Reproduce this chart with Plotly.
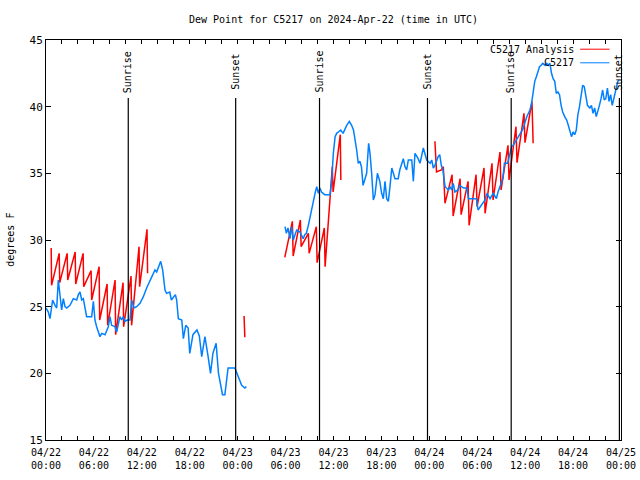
import pandas as pd
import plotly.graph_objects as go

BASE = pd.Timestamp("2024-04-22 00:00")

# Observations (hours since 2024-04-22 00:00 UTC), None = gap
obs_hours = [0.0, 0.29, 0.5, 0.83, 1.13, 1.34, 1.54, 1.75, 1.96, 2.17, 2.38, 2.59, 3.0, 3.42, 3.84, 4.05,
             4.26, 4.47, 4.67, 5.09, 5.72, 5.93, 6.13, 6.34, 6.76, 6.97, 7.39, 7.8, 8.01, 8.22, 8.64, 8.85,
             9.06, 9.26, 9.47, 9.68, 9.89, 10.18, 10.52, 10.73, 11.02, 11.35, 11.77, 12.19, 12.6, 13.02,
             13.44, 13.65, 13.86, 14.07, 14.36, 14.61, 14.9, 15.1, 15.5, 15.7, 16.2, 16.36, 16.57, 17.0,
             17.2, 17.5, 17.8, 18.0, 18.4, 18.9, 19.2, 19.5, 19.9, 20.3, 20.6, 20.9, 21.3, 21.6, 21.8,
             22.1, 22.4, 22.8, 23.65, 24.1, 24.5, 24.9, 25.1,
             None,
             29.93, 30.1, 30.3, 30.55, 30.76, 30.97, 31.18, 31.39, 31.8, 32.0, 32.2, 32.4, 32.6, 32.85,
             33.06, 33.27, 33.48, 33.69, 33.9, 34.1, 34.3, 34.5, 34.9, 35.56, 35.77, 35.98, 36.2, 36.4,
             36.6, 36.9, 37.2, 37.65, 37.98, 38.27, 38.5, 38.7, 38.9, 39.1, 39.3, 39.5, 39.7, 39.95,
             40.15, 40.4, 40.57, 40.78, 40.99, 41.2, 41.5, 41.8, 42.03, 42.24, 42.45, 42.66, 42.87,
             43.07, 43.3, 43.7, 44.1, 44.3, 44.74, 44.95, 45.16, 45.37, 45.8, 46.0, 46.2, 46.6, 46.83,
             47.25, 47.46, 47.67, 48.1, 48.3, 48.5, 48.7, 49.1, 49.3, 49.5, 49.7, 49.97, 50.2, 50.4,
             50.6, 50.8, 51.0, 51.2, 51.6, 51.8, 52.3, 52.7, 52.9, 53.9, 54.1, 54.55, 54.97, 55.2, 55.6,
             56.0, 56.4, 56.6, 57.2, 57.4, 57.8, 58.1, 58.3, 58.5, 58.9, 59.3, 59.7, 60.2, 60.6, 60.8,
             61.0, 61.2, 61.4, 61.6, 61.8, 62.0, 62.2, 62.5, 62.7, 62.9, 63.1, 63.3, 63.5, 63.7, 63.9,
             64.1, 64.3, 64.5, 64.7, 64.95, 65.2, 65.4, 65.6, 65.8, 66.0, 66.2, 66.4, 66.6, 66.8, 67.0,
             67.2, 67.4, 67.6, 67.8, 68.1, 68.3, 68.5, 68.7, 68.9, 69.1, 69.3, 69.5, 69.7, 69.9, 70.1,
             70.3, 70.5, 70.7, 70.9, 71.1, 71.4, 71.6, 71.8]
obs_values = [24.9, 24.6, 24.1, 25.5, 25.1, 24.9, 27.0, 25.75, 24.75, 25.6, 25.0, 24.9, 25.1, 25.6, 25.5, 25.9,
              26.1, 25.5, 25.6, 24.25, 24.25, 25.4, 24.0, 23.5, 22.75, 23.0, 22.9, 23.5, 24.25, 23.6, 23.5, 23.1,
              23.6, 24.25, 24.0, 24.25, 23.9, 24.0, 24.0, 25.5, 24.9, 25.0, 25.25, 25.75, 26.4, 26.9,
              27.5, 27.75, 27.6, 28.0, 28.4, 27.75, 26.25, 26.0, 26.1, 25.5, 25.9, 25.5, 24.1, 24.0,
              22.6, 23.6, 23.4, 21.5, 22.9, 23.25, 22.8, 21.25, 22.75, 21.25, 20.0, 21.5, 22.25, 20.0, 19.4,
              18.4, 18.4, 20.4, 20.4, 19.75, 19.1, 18.9, 19.0,
              None,
              31.0, 30.5, 30.9, 30.1, 31.0, 30.0, 30.4, 30.75, 30.6, 30.4, 30.1, 30.4, 30.5, 31.1,
              31.75, 32.25, 32.75, 33.5, 34.0, 33.5, 33.9, 33.6, 33.4, 33.4, 34.4, 36.5, 37.75, 38.0,
              38.1, 38.25, 38.0, 38.6, 38.9, 38.6, 38.25, 37.6, 36.75, 35.75, 35.9, 35.5, 34.1, 34.6,
              35.0, 37.25, 36.5, 35.0, 33.0, 33.4, 35.0, 34.4, 33.5, 33.1, 34.4, 33.1, 32.9,
              34.0, 35.4, 34.6, 34.6, 35.25, 36.1, 35.5, 35.25, 36.0, 36.0, 34.4, 36.5, 36.1, 35.75,
              36.9, 36.5, 36.0, 35.75, 36.0, 35.4, 35.6, 36.25, 36.4, 35.6, 35.25, 34.0, 33.9, 33.75,
              34.0, 33.75, 34.25, 33.6, 33.75, 34.1, 33.9, 33.9, 33.1, 33.1, 32.25, 32.6, 33.0, 33.5, 33.1,
              33.5, 33.1, 33.6, 34.6, 35.75, 35.75, 36.5, 37.0, 37.1, 37.5, 38.0, 38.3, 39.25, 39.75, 40.25,
              41.25, 41.9, 42.25, 42.6, 43.0, 43.1, 43.25, 43.1, 43.25, 43.1, 43.25, 42.5, 42.1, 41.9, 41.0,
              41.1, 40.9, 40.1, 39.6, 39.25, 39.0, 38.6, 38.1, 37.75, 38.1, 37.9, 38.25, 39.4, 40.0, 40.9,
              41.6, 41.5, 40.6, 40.1, 39.9, 40.1, 39.5, 39.9, 39.25, 39.6, 40.1, 40.6, 41.25, 40.5, 40.6,
              41.4, 40.4, 40.9, 40.1, 40.6, 41.5, 41.9, 42.0]

# Analysis (hours since 2024-04-22 00:00 UTC), None = gap
ana_hours = [0.65, 0.7, 1.65, 1.72, 2.65, 2.72, 3.65, 3.72, 4.65, 4.72, 5.65, 5.72, 6.65, 6.72, 7.65, 7.72,
             8.65, 8.72, 9.65, 9.72, 10.65, 10.72, 11.65, 11.72, 12.65, 12.72,
             None,
             24.8, 24.83, 24.9,
             None,
             29.9, 30.85, 30.95, 31.85, 31.95, 32.85, 32.95, 33.85, 33.95, 34.85, 34.95, 35.85, 35.95,
             36.85, 36.92,
             None,
             48.7, 48.9, 49.5, 49.75, 49.96, 50.85, 50.98, 51.85, 51.98, 52.85, 52.98, 53.85, 53.98,
             54.85, 54.98, 55.85, 55.98, 56.85, 56.98, 57.85, 57.98, 58.85, 58.98, 59.85, 59.98, 60.85, 61.0]
ana_values = [29.4, 26.6, 29.0, 26.8, 29.0, 27.0, 29.1, 26.7, 29.0, 26.5, 27.7, 25.5, 28.0, 24.0, 26.7, 23.6,
              27.0, 22.9, 26.8, 23.5, 27.3, 23.6, 29.5, 26.5, 30.8, 27.5,
              None,
              24.3, 23.4, 22.7,
              None,
              28.7, 31.4, 28.8, 31.5, 29.5, 30.5, 29.0, 31.0, 28.3, 30.9, 28.0, 35.5, 33.6,
              37.9, 34.5,
              None,
              37.4, 35.1, 35.25, 35.5, 32.75, 34.9, 31.8, 34.6, 31.9, 34.4, 31.1, 34.9, 32.5,
              35.4, 32.0, 35.75, 33.0, 36.6, 33.75, 37.1, 34.5, 38.5, 35.8, 39.5, 37.3, 40.4, 37.25]

event_hours = [10.3, 23.75, 34.25, 47.77, 58.25, 71.8]
event_labels = ["Sunrise", "Sunset", "Sunrise", "Sunset", "Sunrise", "Sunset"]

tick_hours = [0, 6, 12, 18, 24, 30, 36, 42, 48, 54, 60, 66, 72]
tick_labels = ["04/22<br>00:00", "04/22<br>06:00", "04/22<br>12:00", "04/22<br>18:00",
               "04/23<br>00:00", "04/23<br>06:00", "04/23<br>12:00", "04/23<br>18:00",
               "04/24<br>00:00", "04/24<br>06:00", "04/24<br>12:00", "04/24<br>18:00",
               "04/25<br>00:00"]
y_ticks = [15, 20, 25, 30, 35, 40, 45]

series_names = ["C5217 Analysis", "C5217"]
series_colors = ["#ff0000", "#0080ff"]


def to_time(hours):
    return [None if h is None else BASE + pd.Timedelta(hours=h) for h in hours]


FONT = "DejaVu Sans Mono"

fig = go.Figure()
fig.add_trace(go.Scatter(x=to_time(ana_hours), y=ana_values, mode="lines", name=series_names[0],
                         line=dict(color=series_colors[0], width=1.5), connectgaps=False,
                         showlegend=False))
fig.add_trace(go.Scatter(x=to_time(obs_hours), y=obs_values, mode="lines", name=series_names[1],
                         line=dict(color=series_colors[1], width=1.5), connectgaps=False,
                         showlegend=False))

for h, lab in zip(event_hours, event_labels):
    t = BASE + pd.Timedelta(hours=h)
    fig.add_shape(type="line", xref="x", yref="paper", x0=t, x1=t, y0=0, y1=0.855,
                  line=dict(color="black", width=1.2))
    fig.add_annotation(x=t, xref="x", y=0.92, yref="paper", text=lab, textangle=-90,
                       showarrow=False, font=dict(family=FONT, size=10, color="black"),
                       xanchor="center", yanchor="middle")

# manual legend (text then line sample)
legend_y = [0.977, 0.943]
for name, col, ly in zip(series_names, series_colors, legend_y):
    fig.add_annotation(x=0.921, xref="paper", y=ly, yref="paper", text=name, showarrow=False,
                       xanchor="right", yanchor="middle",
                       font=dict(family=FONT, size=10, color="black"))
    fig.add_shape(type="line", xref="paper", yref="paper", x0=0.929, x1=0.98, y0=ly, y1=ly,
                  line=dict(color=col, width=1))

# title
fig.add_annotation(x=0.5, xref="paper", y=1.05, yref="paper", xanchor="center", yanchor="middle",
                   text="Dew Point for C5217 on 2024-Apr-22 (time in UTC)", showarrow=False,
                   font=dict(family=FONT, size=10, color="black"))
# y-axis label
fig.add_annotation(x=-0.063, xref="paper", y=0.5, yref="paper", xanchor="center", yanchor="middle",
                   text="degrees F", textangle=-90, showarrow=False,
                   font=dict(family=FONT, size=10, color="black"))

fig.update_layout(
    width=640, height=480,
    margin=dict(l=46, r=19, t=40, b=40, autoexpand=False),
    paper_bgcolor="white", plot_bgcolor="white",
    font=dict(family=FONT, size=10, color="black"),
    showlegend=False,
    hovermode=False,
)
fig.update_xaxes(
    range=[BASE, BASE + pd.Timedelta(hours=72)],
    tickvals=to_time(tick_hours), ticktext=tick_labels,
    ticks="inside", ticklen=4, tickcolor="black", ticklabelstandoff=3,
    minor=dict(dtick=2 * 3600000, ticks="inside", ticklen=4, tickcolor="black", showgrid=False),
    showgrid=False, zeroline=False, automargin=False,
    showline=True, linecolor="black", linewidth=1, mirror="allticks",
    tickfont=dict(family=FONT, size=10, color="black"),
)
fig.update_yaxes(
    range=[15, 45], tickvals=y_ticks,
    ticks="inside", ticklen=5, tickcolor="black",
    showgrid=False, zeroline=False, automargin=False,
    showline=True, linecolor="black", linewidth=1, mirror="allticks",
    tickfont=dict(family=FONT, size=11, color="black"),
)

fig.write_html("out.html", config={"displayModeBar": False, "staticPlot": True},
               post_script="document.body.style.margin='0px';document.body.style.overflow='hidden';")
